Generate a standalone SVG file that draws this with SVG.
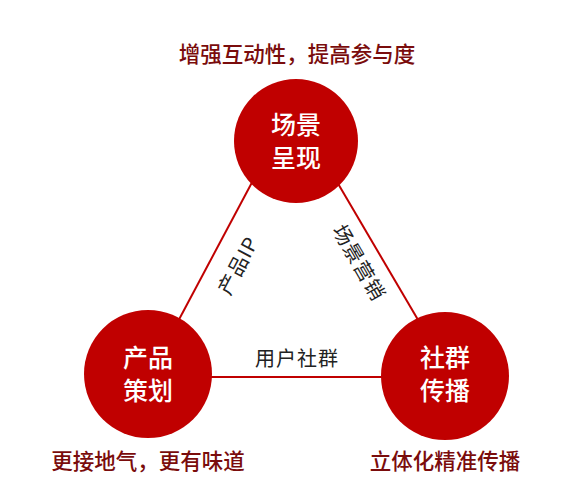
<svg xmlns="http://www.w3.org/2000/svg" width="585" height="502" viewBox="0 0 585 502">
<style>
text{font-family:"Noto Sans CJK SC","Noto Sans",sans-serif}
.node circle{fill:#c00000}
.nt{fill:#fff;font-size:25px;text-anchor:middle;font-weight:500}
.cap{fill:#7a0c0c;font-size:21.5px;text-anchor:middle;font-weight:500}
.el{fill:#222;font-size:20px;text-anchor:middle;dominant-baseline:central;letter-spacing:1px}
.edge{stroke:#c00000;stroke-width:2;fill:none}
</style>
<rect width="585" height="502" fill="#fff"/>
<g id="connectors">
<line class="edge" x1="274" y1="141" x2="150" y2="374"/>
<line class="edge" x1="313" y1="141" x2="451" y2="376"/>
<line class="edge" x1="148" y1="377" x2="445" y2="377"/>
<text class="el" transform="translate(237,265) rotate(-62)">产品IP</text>
<text class="el" transform="translate(360,262) rotate(60)">场景营销</text>
<text class="el" x="297" y="357">用户社群</text>
</g>
<g id="node-top" class="node">
<circle cx="296" cy="141" r="62"/>
<text class="nt" x="296" y="134">场景</text>
<text class="nt" x="296" y="167">呈现</text>
</g>
<g id="node-left" class="node">
<circle cx="148" cy="374" r="64"/>
<text class="nt" x="148" y="367">产品</text>
<text class="nt" x="148" y="400">策划</text>
</g>
<g id="node-right" class="node">
<circle cx="445" cy="376" r="64"/>
<text class="nt" x="445" y="367">社群</text>
<text class="nt" x="445" y="400">传播</text>
</g>
<g id="caption-top"><text class="cap" x="297" y="62">增强互动性，提高参与度</text></g>
<g id="caption-left"><text class="cap" x="148" y="469">更接地气，更有味道</text></g>
<g id="caption-right"><text class="cap" x="445" y="469">立体化精准传播</text></g>
</svg>
